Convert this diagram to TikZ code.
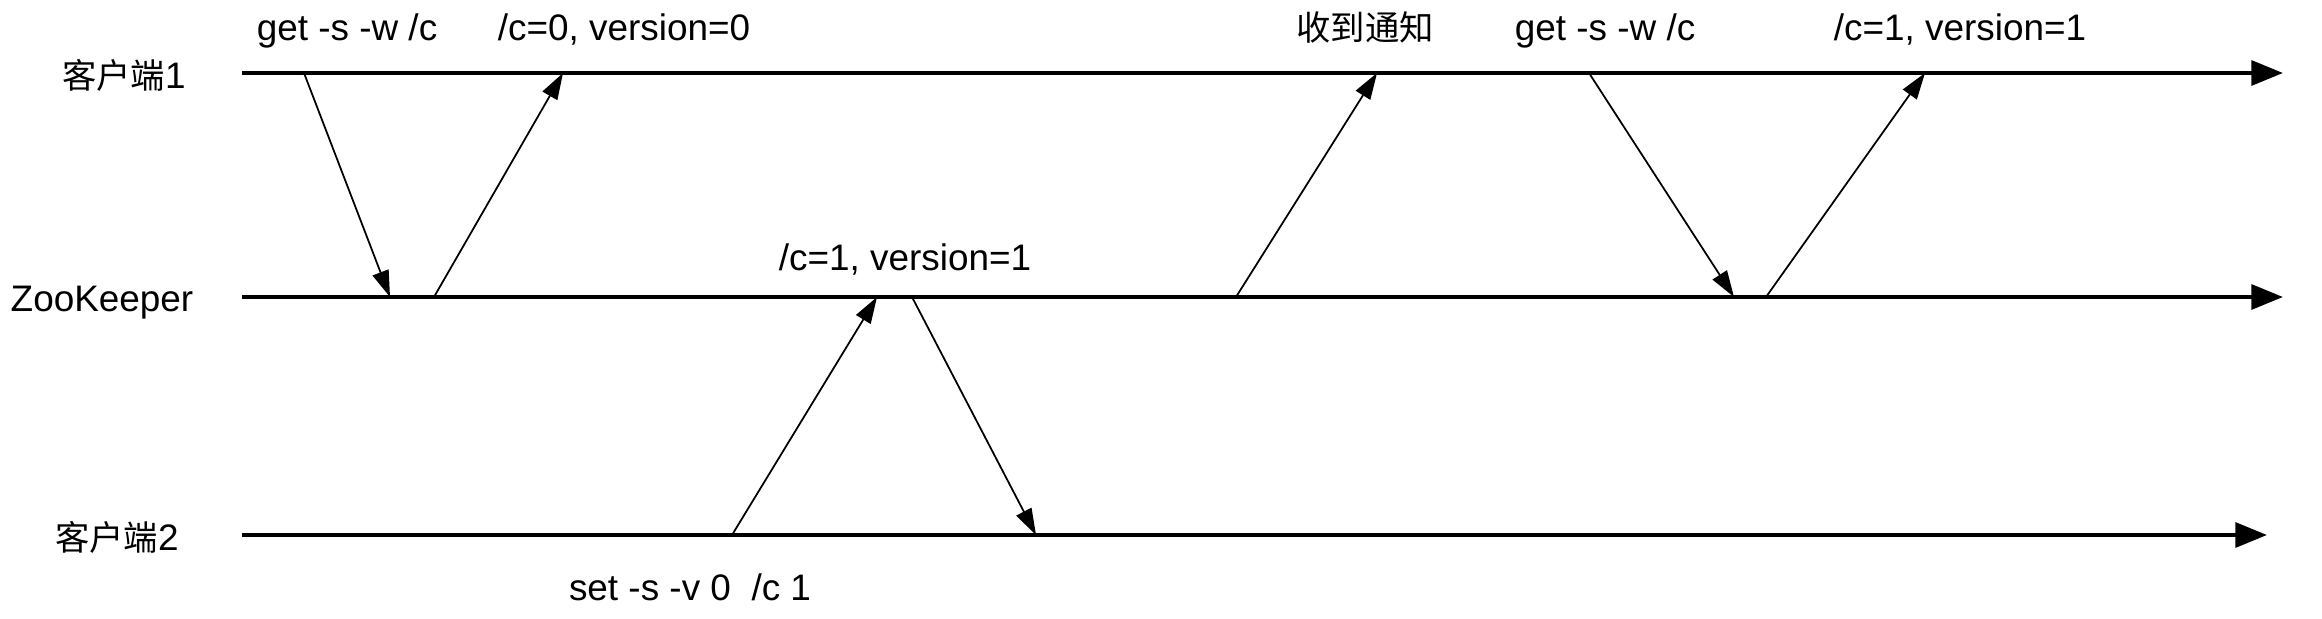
\documentclass[tikz,border=0pt]{standalone}
\usepackage{fontspec}
\setmainfont{Liberation Sans}
\newfontfamily\cjk{Noto Sans CJK SC}[Scale=0.93]
\usetikzlibrary{arrows.meta}

\begin{document}
\begin{tikzpicture}[
lane/.style={line width=1.25pt,-{Triangle[length=9pt,width=7pt]}},
msg/.style={line width=0.5pt,-{Triangle[length=7.5pt,width=4.8pt]}},
txt/.style={font=\fontsize{10.5}{12}\selectfont,anchor=base,inner sep=0pt},
]
\useasboundingbox (0,0) rectangle (23.22,-6.18);
% lifelines
\coordinate (c1s) at (2.42,-0.73);
\coordinate (c1e) at (22.83,-0.73);
\coordinate (zks) at (2.42,-2.97);
\coordinate (zke) at (22.83,-2.97);
\coordinate (c2s) at (2.42,-5.35);
\coordinate (c2e) at (22.67,-5.35);
\draw[lane] (c1s) -- (c1e);
\draw[lane] (zks) -- (zke);
\draw[lane] (c2s) -- (c2e);
\node[txt] (c1) at (1.24,-0.89) {{\cjk 客户端}1};
\node[txt] (zk) at (1.02,-3.11) {ZooKeeper};
\node[txt] (c2) at (1.17,-5.50) {{\cjk 客户端}2};
% points where the messages meet the lines
\coordinate (p1) at (3.04,-0.73);
\coordinate (p2) at (3.90,-2.97);
\coordinate (p3) at (4.34,-2.97);
\coordinate (p4) at (5.63,-0.73);
\coordinate (p5) at (7.32,-5.35);
\coordinate (p6) at (8.77,-2.97);
\coordinate (p7) at (9.12,-2.97);
\coordinate (p8) at (10.36,-5.35);
\coordinate (p9) at (12.36,-2.97);
\coordinate (p10) at (13.77,-0.73);
\coordinate (p11) at (15.89,-0.73);
\coordinate (p12) at (17.34,-2.97);
\coordinate (p13) at (17.66,-2.97);
\coordinate (p14) at (19.25,-0.73);
\draw[msg] (p1) -- (p2);
\draw[msg] (p3) -- (p4);
\draw[msg] (p5) -- (p6);
\draw[msg] (p7) -- (p8);
\draw[msg] (p9) -- (p10);
\draw[msg] (p11) -- (p12);
\draw[msg] (p13) -- (p14);
% texts
\node[txt] (get1) at (3.47,-0.41) {get -s -w /c};
\node[txt] (ver0) at (6.24,-0.41) {/c=0, version=0};
\node[txt] (ver1) at (9.05,-2.70) {/c=1, version=1};
\node[txt] (set) at (6.90,-6.00) {set -s -v 0\ \ /c 1};
\node[txt] (note) at (13.65,-0.41) {\cjk 收到通知};
\node[txt] (get2) at (16.05,-0.41) {get -s -w /c};
\node[txt] (ver2) at (19.60,-0.41) {/c=1, version=1};
\end{tikzpicture}
\end{document}
